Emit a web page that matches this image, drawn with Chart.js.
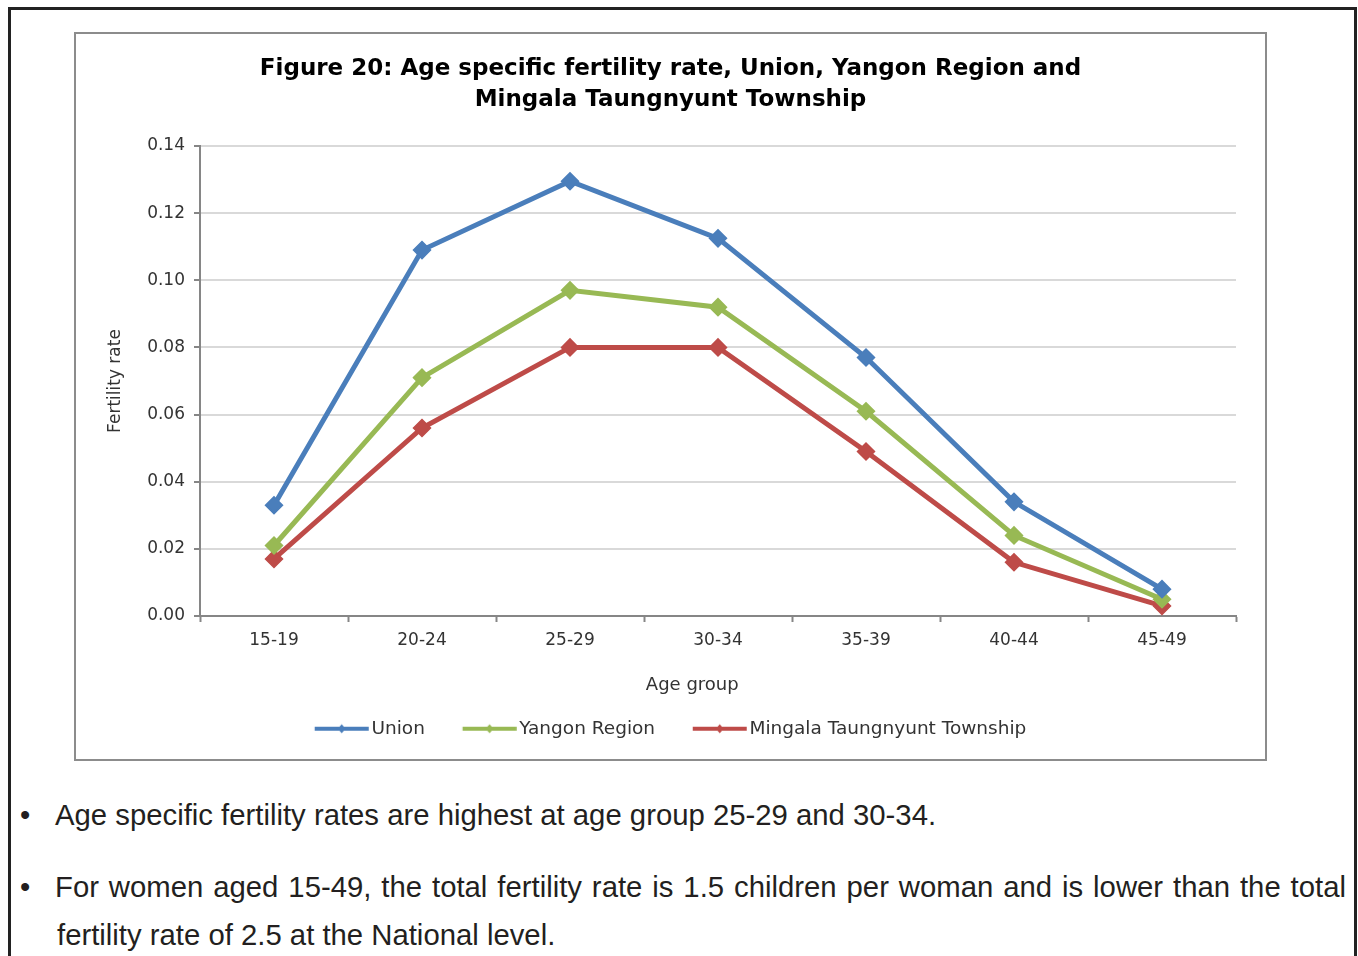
<!DOCTYPE html>
<html>
<head>
<meta charset="utf-8">
<script src="https://cdn.jsdelivr.net/npm/chart.js@4.4.1/dist/chart.umd.min.js"></script>
<style>
html, body { margin: 0; padding: 0; background: #fff; }
body { width: 1358px; height: 956px; position: relative; overflow: hidden; }
#frame { position: absolute; left: 8px; top: 7px; width: 1343px; height: 1000px; border: 3px solid #222; }
#box { position: absolute; left: 74px; top: 32px; width: 1189px; height: 725px; border: 2px solid #8c8c8c; }
#box canvas { display: block; }
.txt { position: absolute; font-family: "Liberation Sans", Arial, sans-serif; font-size: 29.3px; line-height: 34px; color: #231f20; white-space: nowrap; }
.just { text-align: justify; text-align-last: justify; }
</style>
</head>
<body>
<div id="frame"></div>
<div id="box"><canvas id="asfrChart" width="1189" height="725"></canvas></div>

<div class="txt" style="left:20px; top:798px;">•</div>
<div class="txt" style="left:55px; top:798px;">Age specific fertility rates are highest at age group 25-29 and 30-34.</div>
<div class="txt" style="left:20px; top:870px;">•</div>
<div class="txt just" style="left:55px; top:870px; width:1291px;">For women aged 15-49, the total fertility rate is 1.5 children per woman and is lower than the total</div>
<div class="txt" style="left:57px; top:918px;">fertility rate of 2.5 at the National level.</div>

<script>
// Age specific fertility rate
const ageGroups = ['15-19', '20-24', '25-29', '30-34', '35-39', '40-44', '45-49'];
const unionRates = [0.033, 0.109, 0.1295, 0.1125, 0.077, 0.034, 0.008];
const yangonRates = [0.021, 0.071, 0.097, 0.092, 0.061, 0.024, 0.005];
const mingalaRates = [0.017, 0.056, 0.080, 0.080, 0.049, 0.016, 0.003];

const seriesNames = ['Union', 'Yangon Region', 'Mingala Taungnyunt Township'];
const seriesColors = ['#4A7EBB', '#98B954', '#BE4B48'];

const labelFont = { family: "'DejaVu Sans', sans-serif", size: 17 };
const legendFont = { family: "'DejaVu Sans', sans-serif", size: 18.5 };
const axisGrey = '#868686';

// little line + diamond used as legend symbol
function legendIcon(color) {
    const c = document.createElement('canvas');
    c.width = 61;
    c.height = 12;
    const g = c.getContext('2d');
    g.strokeStyle = color;
    g.lineWidth = 4;
    g.beginPath();
    g.moveTo(6.75, 6);
    g.lineTo(60.75, 6);
    g.stroke();
    g.fillStyle = color;
    g.beginPath();
    g.moveTo(33.75, 1.5);
    g.lineTo(37.75, 6);
    g.lineTo(33.75, 10.5);
    g.lineTo(29.75, 6);
    g.closePath();
    g.fill();
    return c;
}
const legendIcons = seriesColors.map(legendIcon);

function makeSeries(i, values) {
    return {
        label: seriesNames[i],
        data: values,
        borderColor: seriesColors[i],
        backgroundColor: seriesColors[i],
        pointBackgroundColor: seriesColors[i],
        pointBorderColor: seriesColors[i]
    };
}

const ctx = document.getElementById('asfrChart').getContext('2d');
const asfrChart = new Chart(ctx, {
    type: 'line',
    data: {
        labels: ageGroups,
        datasets: [
            makeSeries(0, unionRates),
            makeSeries(1, yangonRates),
            makeSeries(2, mingalaRates)
        ]
    },
    options: {
        responsive: false,
        animation: false,
        layout: { padding: { left: 29, right: 29, top: 0, bottom: 11 } },
        elements: {
            line: { borderWidth: 5, tension: 0 },
            point: { pointStyle: 'rectRot', radius: 8.5, borderWidth: 1.5 }
        },
        plugins: {
            title: {
                display: true,
                text: ['Figure 20: Age specific fertility rate, Union, Yangon Region and', 'Mingala Taungnyunt Township'],
                color: '#000',
                font: { family: "'DejaVu Sans', sans-serif", size: 23, weight: 'bold', lineHeight: 31 / 23 },
                padding: { top: 20, bottom: 30 }
            },
            legend: {
                position: 'bottom',
                labels: {
                    usePointStyle: true,
                    pointStyleWidth: 47.5,
                    padding: 20,
                    color: '#333',
                    font: legendFont,
                    generateLabels: chart => Chart.defaults.plugins.legend.labels.generateLabels(chart)
                        .map((item, i) => {
                            item.pointStyle = legendIcons[i];
                            if (i < seriesNames.length - 1) item.text += '\u00a0\u00a0\u00a0';
                            return item;
                        })
                }
            },
            tooltip: { enabled: false }
        },
        scales: {
            x: {
                offset: true,
                grid: { offset: true, drawOnChartArea: false, tickLength: 6, tickColor: axisGrey, tickWidth: 2 },
                border: { color: axisGrey, width: 2 },
                ticks: { color: '#333', font: labelFont, padding: 8 },
                title: {
                    display: true,
                    text: 'Age group' + '\u00a0'.repeat(9),
                    color: '#333',
                    font: { family: "'DejaVu Sans', sans-serif", size: 18 },
                    padding: { top: 15.8, bottom: 3.7 }
                }
            },
            y: {
                min: 0,
                max: 0.14,
                grid: { color: '#d9d9d9', lineWidth: 2, tickLength: 6, tickColor: axisGrey, tickWidth: 2 },
                border: { color: axisGrey, width: 2 },
                ticks: {
                    stepSize: 0.02,
                    color: '#333',
                    font: labelFont,
                    padding: 9,
                    callback: v => v.toFixed(2)
                },
                title: {
                    display: true,
                    text: 'Fertility rate',
                    color: '#333',
                    font: labelFont,
                    padding: { top: 0, bottom: 0 }
                },
                afterFit: scale => { scale.width = 95; }
            }
        }
    }
});
</script>
</body>
</html>
